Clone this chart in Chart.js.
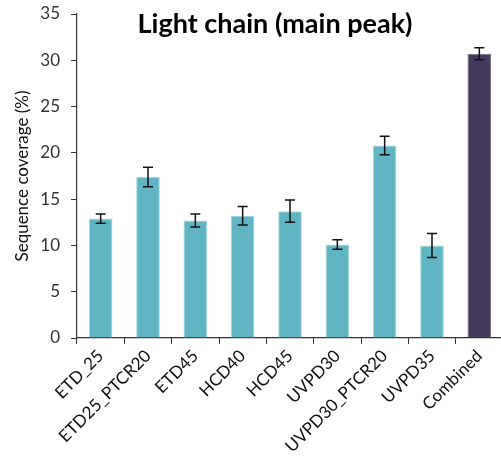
<!DOCTYPE html>
<html>
<head>
<meta charset="utf-8">
<script src="https://cdn.jsdelivr.net/npm/chart.js@4/dist/chart.umd.min.js"></script>
<style>
  html, body { margin: 0; padding: 0; background: #fff; overflow: hidden; }
  #wrap { position: relative; width: 505px; height: 461px; }
</style>
</head>
<body>
<div id="wrap"><canvas id="coverage-chart"></canvas></div>
<script>
var methods = ["ETD_25", "ETD25_PTCR20", "ETD45", "HCD40", "HCD45", "UVPD30", "UVPD30_PTCR20", "UVPD35", "Combined"];
var coverage = [12.9, 17.4, 12.7, 13.2, 13.7, 10.1, 20.8, 10.0, 30.7];   // mean sequence coverage (%)
var coverageErr = [0.5, 1.05, 0.7, 1.0, 1.2, 0.5, 1.0, 1.3, 0.65];     // +/- error
var yTicks = [0, 5, 10, 15, 20, 25, 30, 35];
var chartTitle = "Light chain (main peak)";

var barColors = [];
var edgeColors = [];
for (var i = 0; i < methods.length; i++) {
    if (methods[i] == "Combined") {
        barColors.push("#45395d");
        edgeColors.push("#6e6685");
    } else {
        barColors.push("#61b5c2");
        edgeColors.push("#a6d8df");
    }
}

// error bars drawn on top of the bars
var errorBars = {
    id: "errorBars",
    afterDatasetsDraw: function (chart) {
        var ctx = chart.ctx;
        var yScale = chart.scales.y;
        var meta = chart.getDatasetMeta(0);
        ctx.save();
        ctx.strokeStyle = "#111";
        ctx.lineWidth = 1.5;
        for (var i = 0; i < meta.data.length; i++) {
            var x = meta.data[i].x;
            var top = yScale.getPixelForValue(coverage[i] + coverageErr[i]);
            var bot = yScale.getPixelForValue(coverage[i] - coverageErr[i]);
            ctx.beginPath();
            ctx.moveTo(x, top); ctx.lineTo(x, bot);
            ctx.moveTo(x - 5, top); ctx.lineTo(x + 5, top);
            ctx.moveTo(x - 5, bot); ctx.lineTo(x + 5, bot);
            ctx.stroke();
        }
        ctx.restore();
    }
};

// title sits inside the plot area, above the bars
var innerTitle = {
    id: "innerTitle",
    afterDraw: function (chart) {
        var ctx = chart.ctx;
        ctx.save();
        ctx.font = "bold 27px Lato";
        ctx.fillStyle = "#000";
        ctx.textAlign = "center";
        ctx.textBaseline = "alphabetic";
        ctx.fillText(chartTitle, 275, 33);
        ctx.restore();
    }
};

var ctx = document.getElementById("coverage-chart");
var coverageChart = new Chart(ctx, {
    type: "bar",
    data: {
        labels: methods,
        datasets: [{
            data: coverage,
            backgroundColor: barColors,
            borderColor: edgeColors,
            borderWidth: 1,
            barPercentage: 0.5,
            categoryPercentage: 1
        }]
    },
    options: {
        responsive: true,
        maintainAspectRatio: false,
        animation: false,
        layout: { padding: { top: 4, right: 2, left: 0, bottom: 0 } },
        plugins: {
            legend: { display: false },
            tooltip: { enabled: false }
        },
        scales: {
            x: {
                grid: { display: true, drawOnChartArea: false, tickLength: 6, color: "#333", offset: true },
                border: { display: true, color: "#333", width: 1.2 },
                ticks: {
                    color: "#111",
                    font: { family: "Lato", size: 17 },
                    minRotation: 45,
                    maxRotation: 45,
                    padding: 2,
                    autoSkip: false
                },
                afterFit: function (scale) { scale.height = 123; }
            },
            y: {
                min: 0,
                max: 35,
                afterBuildTicks: function (scale) {
                    scale.ticks = yTicks.map(function (v) { return { value: v }; });
                },
                grid: { display: true, drawOnChartArea: false, tickLength: 6, color: "#333" },
                border: { display: true, color: "#333", width: 1.2 },
                ticks: {
                    color: "#333",
                    font: { family: "Lato", size: 17 },
                    padding: 11
                },
                title: {
                    display: true,
                    text: "Sequence coverage (%)",
                    color: "#111",
                    font: { family: "Lato", size: 17 },
                    padding: { top: 12, bottom: 0 }
                },
                afterFit: function (scale) {
                    scale.width = 77;
                    scale.paddingTop = 14;   // top of axis sits 14px from the edge
                }
            }
        }
    },
    plugins: [errorBars, innerTitle]
});
</script>
</body>
</html>
